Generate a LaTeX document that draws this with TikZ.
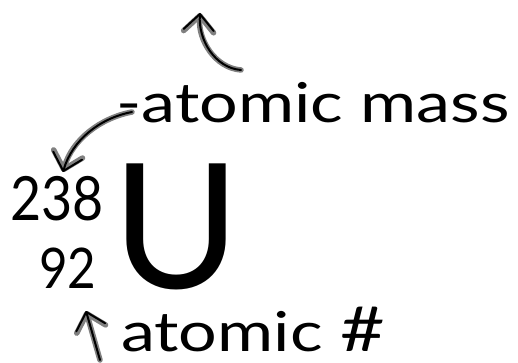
\documentclass[tikz,border=0pt]{standalone}
\usepackage{fontspec}
\setmainfont{Lato}
\usetikzlibrary{arrows.meta}
\newcommand{\widen}[2]{\scalebox{#1}[1]{#2}}
\tikzset{
	label text/.style={inner sep=0pt, anchor=base west},
	pen/.style={line width=2pt, line cap=round, line join=round,
		-{Straight Barb[length=16pt, width=30pt, round]},
		preaction={draw=gray, line width=5.5pt, line cap=round, line join=round,
		-{Straight Barb[length=16pt, width=30pt, round]}}}
}
\begin{document}
\begin{tikzpicture}[x=1pt, y=-1pt]
	\useasboundingbox (0,0) rectangle (518,363);
	% symbol and numbers
	\node[label text, font=\fontsize{174}{180}\selectfont] (sym) at (112,288) {U};
	\node[label text, font=\fontsize{61}{66}\selectfont] (mass) at (10,220) {\widen{0.88}{238}};
	\node[label text, font=\fontsize{56}{60}\selectfont] (num) at (39,288) {\widen{0.88}{92}};
	
	% labels
	\node[label text, font=\fontsize{55}{60}\selectfont] (masstext) at (116,123) {\widen{1.24}{-atomic mass}};
	\node[label text, font=\fontsize{55}{60}\selectfont] (numtext) at (121,351) {\widen{1.24}{atomic {\fontsize{62}{66}\selectfont\#}}};
	
	% arrows
	\coordinate (topstart) at (241,70);
	\coordinate (toptip) at (200,13);
	\coordinate (dash) at (132,112);
	\coordinate (masstip) at (63,172);
	\coordinate (numstart) at (100,360);
	\coordinate (numtip) at (86,311);
	\draw[pen] (topstart) .. controls (215,68) and (198,40) .. (toptip);
	\draw[pen] (dash) .. controls (100,118) and (72,140) .. (masstip);
	\draw[pen] (numstart) -- (numtip);
\end{tikzpicture}
\end{document}
